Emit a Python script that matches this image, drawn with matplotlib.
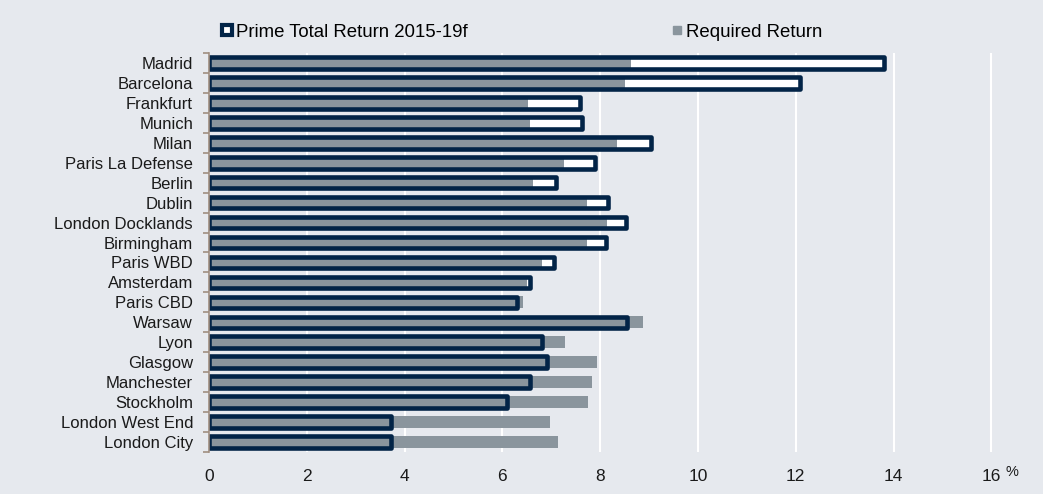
import matplotlib.pyplot as plt
import numpy as np
from matplotlib.lines import Line2D

plt.rcParams["font.family"] = ["Liberation Sans", "DejaVu Sans"]

# data (%)
cities = ["Madrid", "Barcelona", "Frankfurt", "Munich", "Milan", "Paris La Defense",
          "Berlin", "Dublin", "London Docklands", "Birmingham", "Paris WBD", "Amsterdam",
          "Paris CBD", "Warsaw", "Lyon", "Glasgow", "Manchester", "Stockholm",
          "London West End", "London City"]
prime_total = [13.80, 12.09, 7.59, 7.62, 9.03, 7.89, 7.10, 8.16, 8.52, 8.11,
               7.06, 6.56, 6.30, 8.55, 6.80, 6.91, 6.56, 6.09, 3.72, 3.72]
required = [8.64, 8.51, 6.52, 6.56, 8.34, 7.25, 6.62, 7.74, 8.14, 7.74,
            6.81, 6.50, 6.43, 8.88, 7.28, 7.94, 7.84, 7.76, 6.97, 7.13]
xticks = [0, 2, 4, 6, 8, 10, 12, 14, 16]

NAVY = "#022447"
GREY = "#8a959d"
BG = "#e6e9ee"
SPINE = "#a08e80"

W, H = 1043, 494
fig = plt.figure(figsize=(W / 100, H / 100), dpi=100, facecolor=BG)
x0, px_per = 209.0, 48.9
xmax = 16.1
ax = fig.add_axes([x0 / W, 1 - 452 / H, xmax * px_per / W, (452 - 53) / H])
ax.set_facecolor(BG)

y = np.arange(len(cities))

# white inside of the total-return bars, grey required bars, navy outline on top
ax.barh(y, prime_total, height=0.58, color="white", edgecolor="none", zorder=2)
ax.barh(y, required, height=0.6, color=GREY, edgecolor="none", zorder=3)
ax.barh(y, prime_total, height=0.58, fill=False, edgecolor=NAVY, linewidth=3.3,
        joinstyle="round", zorder=4)

ax.set_xlim(0, xmax)
ax.set_ylim(len(cities) - 0.5, -0.5)

ax.set_xticks(xticks)
ax.set_xticklabels([str(t) for t in xticks], fontsize=12.5, color="#1a1a1a")
ax.tick_params(axis="x", length=0, pad=12)
ax.xaxis.grid(True, color="white", linewidth=1.5, zorder=1)
ax.set_axisbelow(True)

ax.set_yticks(y)
ax.set_yticklabels(cities, fontsize=12, color="#1a1a1a")
ax.tick_params(axis="y", which="major", length=0, pad=11.5)
ax.set_yticks(np.arange(len(cities) + 1) - 0.5, minor=True)
ax.tick_params(axis="y", which="minor", length=4, width=1.2, color=SPINE)

for s in ["top", "right", "bottom"]:
    ax.spines[s].set_visible(False)
ax.spines["left"].set_color(SPINE)
ax.spines["left"].set_linewidth(1.2)
ax.spines["left"].set_zorder(5)

fig.text(1006 / W, 1 - 471.5 / H, "%", fontsize=10.5, color="#1a1a1a", va="center")

handles = [
    Line2D([], [], linestyle="none", marker="s", markersize=6.5, markerfacecolor="white",
           markeredgecolor=NAVY, markeredgewidth=3),
    Line2D([], [], linestyle="none", marker="s", markersize=6, markerfacecolor=GREY,
           markeredgecolor=GREY),
]
fig.legend(handles, ["Prime Total Return 2015-19f", "Required Return"],
           loc="center left", bbox_to_anchor=(221 / W, 1 - 32 / H), ncol=2,
           frameon=False, fontsize=13.4, handlelength=0.6, handletextpad=0.2,
           columnspacing=10.95, borderpad=0, borderaxespad=0)

fig.savefig("out.png", dpi=100, facecolor=BG)
